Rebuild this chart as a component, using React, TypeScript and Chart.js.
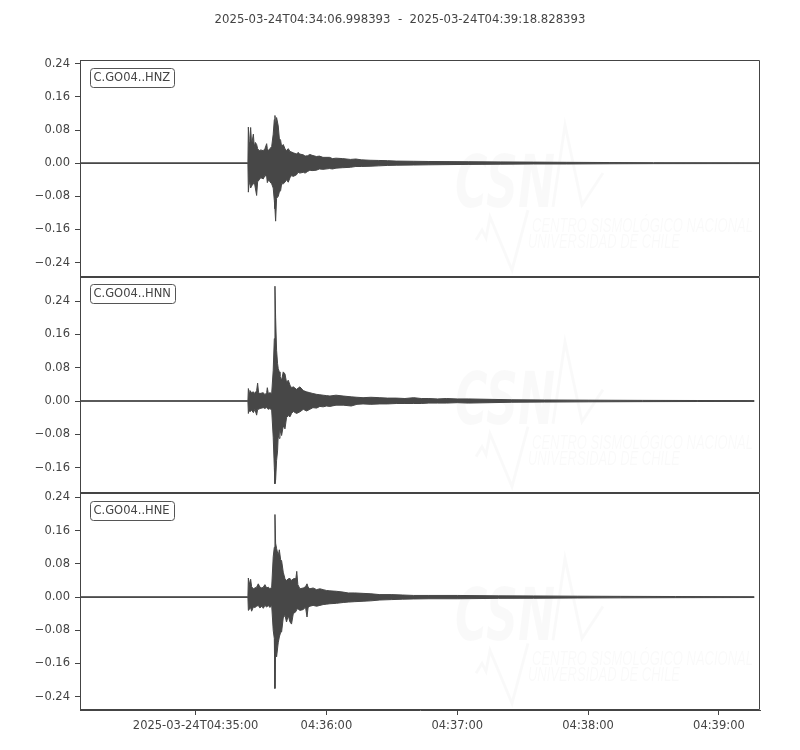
import React, { useEffect, useRef } from "react";
import { Chart, registerables } from "chart.js";

Chart.register(...registerables);

// ---------- data ----------
const TITLE_START = "2025-03-24T04:34:06.998393";
const TITLE_END = "2025-03-24T04:39:18.828393";
// time axis: seconds after 2025-03-24T04:34:00
const X_MIN = 6.998393;
const X_MAX = 318.828393;
const X_TICKS = [60, 120, 180, 240, 300];
const X_TICK_LABELS = ["2025-03-24T04:35:00", "04:36:00", "04:37:00", "04:38:00", "04:39:00"];

const CHANNELS = ["C.GO04..HNZ", "C.GO04..HNN", "C.GO04..HNE"];

const Z_RANGE = [-0.274, 0.249];
const N_RANGE = [-0.222, 0.299];
const E_RANGE = [-0.272, 0.25];

const Z_TICKS = [-0.24, -0.16, -0.08, 0, 0.08, 0.16, 0.24];
const N_TICKS = [-0.16, -0.08, 0, 0.08, 0.16, 0.24];
const E_TICKS = [-0.24, -0.16, -0.08, 0, 0.08, 0.16, 0.24];

// envelopes: [time (s after 04:34:00), max, min]
const HNZ_ENVELOPE: [number, number, number][] = [
  [7.0, 0.0008, -0.0008], [84.0, 0.0008, -0.0008],
  [84.2, 0.087, -0.07], [84.5, 0.05, -0.05], [84.9, 0.06, -0.045], [85.25, 0.086, -0.06],
  [85.7, 0.045, -0.055], [86.5, 0.07, -0.05], [86.9, 0.04, -0.045], [87.4, 0.05, -0.06],
  [88.0, 0.045, -0.078], [88.45, 0.035, -0.045], [89.2, 0.03, -0.04], [89.9, 0.032, -0.035],
  [91.05, 0.03, -0.038], [91.8, 0.035, -0.03], [92.6, 0.047, -0.032], [92.9, 0.035, -0.047],
  [93.5, 0.03, -0.04], [94.1, 0.035, -0.045], [94.9, 0.04, -0.05], [95.6, 0.07, -0.06],
  [96.1, 0.105, -0.09], [96.4, 0.115, -0.11], [96.7, 0.09, -0.14], [97.15, 0.11, -0.085],
  [97.9, 0.09, -0.08], [98.4, 0.06, -0.07], [99.0, 0.055, -0.066], [99.45, 0.04, -0.05],
  [100.2, 0.045, -0.05], [101.0, 0.035, -0.046], [101.7, 0.03, -0.04], [102.5, 0.035, -0.046],
  [103.3, 0.028, -0.035], [104.0, 0.027, -0.03], [104.8, 0.025, -0.032], [106.3, 0.022, -0.028],
  [107.0, 0.026, -0.022], [107.8, 0.022, -0.024], [109.4, 0.02, -0.022], [110.2, 0.017, -0.024],
  [111.4, 0.018, -0.02], [112.4, 0.021, -0.017], [113.4, 0.019, -0.018], [115.4, 0.016, -0.017],
  [116.8, 0.017, -0.014], [118.4, 0.014, -0.015], [121.4, 0.014, -0.013], [122.8, 0.011, -0.014],
  [124.4, 0.012, -0.012], [127.4, 0.011, -0.011], [131.0, 0.009, -0.01], [133.5, 0.01, -0.008],
  [136.0, 0.008, -0.008], [140.0, 0.007, -0.0075], [144.0, 0.0065, -0.0065], [148.0, 0.006, -0.0055],
  [152.0, 0.005, -0.005], [160.0, 0.0045, -0.0045], [167.0, 0.004, -0.004], [185.0, 0.0035, -0.003],
  [200.0, 0.003, -0.0025], [215.0, 0.0025, -0.002], [230.0, 0.002, -0.002], [250.0, 0.0015, -0.0015],
  [270.0, 0.0012, -0.0012], [318.83, 0.001, -0.001],
];

const HNN_ENVELOPE: [number, number, number][] = [
  [7.0, 0.0008, -0.0008], [84.0, 0.0008, -0.0008],
  [84.2, 0.03, -0.03], [84.6, 0.02, -0.02], [84.95, 0.025, -0.025], [85.7, 0.02, -0.022],
  [86.5, 0.022, -0.028], [87.2, 0.018, -0.02], [88.0, 0.025, -0.034], [88.45, 0.043, -0.02],
  [88.9, 0.02, -0.02], [89.5, 0.018, -0.018], [91.05, 0.02, -0.016], [91.8, 0.015, -0.018],
  [92.6, 0.02, -0.015], [92.9, 0.032, -0.018], [93.35, 0.018, -0.02], [94.1, 0.02, -0.018],
  [94.9, 0.018, -0.022], [95.6, 0.074, -0.087], [96.1, 0.15, -0.16], [96.4, 0.276, -0.199],
  [96.7, 0.2, -0.19], [97.15, 0.122, -0.143], [97.6, 0.09, -0.12], [97.9, 0.078, -0.083],
  [98.4, 0.07, -0.09], [98.7, 0.06, -0.07], [99.45, 0.05, -0.083], [100.2, 0.07, -0.06],
  [101.0, 0.065, -0.067], [101.7, 0.045, -0.04], [102.5, 0.05, -0.035], [103.3, 0.038, -0.038],
  [104.0, 0.032, -0.03], [104.8, 0.034, -0.025], [106.3, 0.028, -0.03], [107.85, 0.034, -0.026],
  [109.4, 0.025, -0.02], [110.9, 0.022, -0.024], [112.4, 0.02, -0.02], [113.8, 0.018, -0.016],
  [115.5, 0.016, -0.017], [117.0, 0.015, -0.013], [118.5, 0.014, -0.014], [120.0, 0.013, -0.012],
  [121.6, 0.012, -0.013], [124.4, 0.014, -0.01], [127.7, 0.012, -0.01], [131.4, 0.01, -0.012],
  [134.0, 0.009, -0.008], [136.8, 0.008, -0.007], [140.4, 0.009, -0.008], [144.5, 0.008, -0.007],
  [148.0, 0.007, -0.007], [152.0, 0.007, -0.006], [156.0, 0.006, -0.006], [160.0, 0.008, -0.006],
  [163.5, 0.006, -0.006], [167.0, 0.006, -0.005], [171.0, 0.005, -0.005], [175.0, 0.006, -0.005],
  [180.0, 0.005, -0.004], [185.0, 0.005, -0.005], [195.0, 0.004, -0.004], [205.0, 0.003, -0.003],
  [220.0, 0.0025, -0.0025], [240.0, 0.002, -0.002], [265.0, 0.0015, -0.0015], [290.0, 0.0012, -0.0012],
  [316.2, 0.001, -0.001],
];

const HNE_ENVELOPE: [number, number, number][] = [
  [7.0, 0.0008, -0.0008], [84.0, 0.0008, -0.0008],
  [84.2, 0.046, -0.032], [84.6, 0.03, -0.03], [85.25, 0.043, -0.025], [85.7, 0.025, -0.034],
  [86.5, 0.02, -0.024], [87.2, 0.022, -0.025], [88.0, 0.024, -0.022], [88.75, 0.032, -0.02],
  [89.5, 0.024, -0.026], [90.4, 0.022, -0.022], [91.05, 0.024, -0.027], [91.8, 0.03, -0.02],
  [92.6, 0.022, -0.024], [93.35, 0.024, -0.02], [94.1, 0.02, -0.025], [94.9, 0.024, -0.02],
  [95.6, 0.097, -0.08], [96.1, 0.12, -0.1], [96.4, 0.199, -0.22], [96.7, 0.13, -0.12],
  [97.15, 0.117, -0.144], [97.9, 0.1, -0.11], [98.4, 0.114, -0.096], [99.0, 0.09, -0.085],
  [99.45, 0.088, -0.084], [100.2, 0.06, -0.05], [101.0, 0.044, -0.044], [101.7, 0.04, -0.06],
  [102.5, 0.044, -0.045], [103.3, 0.045, -0.06], [104.0, 0.04, -0.065], [104.8, 0.044, -0.04],
  [106.0, 0.045, -0.035], [106.4, 0.062, -0.03], [106.9, 0.03, -0.028], [107.85, 0.02, -0.032],
  [109.4, 0.022, -0.03], [110.4, 0.025, -0.024], [111.1, 0.032, -0.048], [111.6, 0.024, -0.025],
  [112.4, 0.02, -0.022], [113.9, 0.022, -0.02], [115.5, 0.018, -0.022], [117.0, 0.02, -0.02],
  [118.5, 0.018, -0.018], [120.0, 0.016, -0.017], [121.6, 0.015, -0.016], [124.6, 0.014, -0.015],
  [127.7, 0.012, -0.013], [130.0, 0.01, -0.012], [133.0, 0.01, -0.011], [136.8, 0.009, -0.01],
  [140.4, 0.008, -0.009], [144.5, 0.006, -0.007], [150.0, 0.006, -0.006], [155.0, 0.005, -0.005],
  [160.0, 0.004, -0.0045], [167.0, 0.004, -0.004], [180.0, 0.004, -0.004], [199.0, 0.003, -0.003],
  [215.0, 0.0028, -0.0028], [235.0, 0.0022, -0.0022], [255.0, 0.0018, -0.0018], [280.0, 0.0014, -0.0014],
  [316.2, 0.001, -0.001],
];

// ---------- styling ----------
const INK = "#444444";
const WAVE = "#474747";
const FONT = '"DejaVu Sans", sans-serif';
const PANEL_AXES = ["yZ", "yN", "yE"];

function fmtTick(v: number): string {
  if (Math.abs(v) < 1e-9) return "0.00";
  return (v < 0 ? "\u2212" : "") + Math.abs(v).toFixed(2);
}

function fitText(ctx: CanvasRenderingContext2D, text: string, x: number, y: number, width: number) {
  const w = ctx.measureText(text).width;
  ctx.save();
  ctx.translate(x, y);
  ctx.scale(width / w, 1);
  ctx.fillText(text, 0, 0);
  ctx.restore();
}

function drawWatermark(ctx: CanvasRenderingContext2D, top: number) {
  ctx.save();
  const c = "rgba(0,0,0,0.022)";
  ctx.fillStyle = c;
  ctx.strokeStyle = c;
  ctx.textBaseline = "alphabetic";
  ctx.textAlign = "left";
  ctx.font = `italic bold 73px ${FONT}`;
  fitText(ctx, "CSN", 455, top + 147, 100);
  ctx.lineWidth = 3;
  ctx.lineJoin = "miter";
  ctx.beginPath();
  ctx.moveTo(553, top + 147);
  ctx.lineTo(565, top + 65);
  ctx.lineTo(582, top + 145);
  ctx.lineTo(603, top + 113);
  ctx.stroke();
  ctx.beginPath();
  ctx.moveTo(476, top + 180);
  ctx.lineTo(482, top + 170);
  ctx.lineTo(486, top + 178);
  ctx.lineTo(490, top + 157);
  ctx.lineTo(512, top + 210);
  ctx.lineTo(528, top + 150);
  ctx.stroke();
  ctx.font = `italic 21px "Liberation Sans", ${FONT}`;
  fitText(ctx, "CENTRO SISMOLÓGICO NACIONAL", 532, top + 172, 221);
  fitText(ctx, "UNIVERSIDAD DE CHILE", 528, top + 188, 152);
  ctx.restore();
}

function roundRectPath(ctx: CanvasRenderingContext2D, x: number, y: number, w: number, h: number, r: number) {
  ctx.beginPath();
  ctx.moveTo(x + r, y);
  ctx.lineTo(x + w - r, y);
  ctx.arcTo(x + w, y, x + w, y + r, r);
  ctx.lineTo(x + w, y + h - r);
  ctx.arcTo(x + w, y + h, x + w - r, y + h, r);
  ctx.lineTo(x + r, y + h);
  ctx.arcTo(x, y + h, x, y + h - r, r);
  ctx.lineTo(x, y + r);
  ctx.arcTo(x, y, x + r, y, r);
  ctx.closePath();
}

const decorPlugin = {
  id: "seisDecor",
  beforeDatasetsDraw(chart: any) {
    const ctx = chart.ctx as CanvasRenderingContext2D;
    const area = chart.chartArea;
    ctx.save();
    ctx.beginPath();
    ctx.rect(area.left, area.top, area.right - area.left, area.bottom - area.top);
    ctx.clip();
    PANEL_AXES.forEach((id) => drawWatermark(ctx, chart.scales[id].top));
    ctx.restore();
  },
  afterDatasetsDraw(chart: any) {
    const ctx = chart.ctx as CanvasRenderingContext2D;
    const area = chart.chartArea;
    ctx.save();
    ctx.strokeStyle = INK;
    ctx.lineWidth = 1;
    PANEL_AXES.forEach((id) => {
      const s = chart.scales[id];
      const l = Math.round(area.left) + 0.5;
      const r = Math.round(area.right) - 0.5;
      const t = Math.round(s.top) + 0.5;
      const b = Math.round(s.bottom) - 0.5;
      ctx.beginPath();
      ctx.moveTo(l, t);
      ctx.lineTo(r, t);
      ctx.lineTo(r, b);
      ctx.lineTo(l, b);
      ctx.stroke();
    });
    ctx.font = `11.5px ${FONT}`;
    ctx.textBaseline = "middle";
    ctx.textAlign = "left";
    PANEL_AXES.forEach((id, i) => {
      const s = chart.scales[id];
      const text = CHANNELS[i];
      const tw = ctx.measureText(text).width;
      const tx = area.left + 13.5;
      const bx = Math.round(tx - 3.8) + 0.5;
      const by = Math.round(s.top + 7.5) + 0.5;
      const bw = Math.round(tw + 7.6);
      const bh = 19;
      ctx.fillStyle = "#ffffff";
      roundRectPath(ctx, bx, by, bw, bh, 3);
      ctx.fill();
      ctx.strokeStyle = "#555555";
      ctx.stroke();
      ctx.fillStyle = INK;
      ctx.fillText(text, tx, by + bh / 2 + 0.5);
    });
    ctx.restore();
  },
  afterDraw(chart: any) {
    const ctx = chart.ctx as CanvasRenderingContext2D;
    ctx.save();
    ctx.font = `11.7px ${FONT}`;
    ctx.fillStyle = INK;
    ctx.textAlign = "center";
    ctx.textBaseline = "middle";
    ctx.fillText(`${TITLE_START}  -  ${TITLE_END}`, 400, 20);
    ctx.restore();
  },
};

function envelopeDatasets(env: [number, number, number][], axis: string) {
  return [
    {
      data: env.map(([t, hi]) => ({ x: t, y: hi })),
      yAxisID: axis,
      xAxisID: "x",
      borderColor: WAVE,
      backgroundColor: WAVE,
      borderWidth: 1,
      pointRadius: 0,
      tension: 0,
      fill: "+1",
    },
    {
      data: env.map(([t, , lo]) => ({ x: t, y: lo })),
      yAxisID: axis,
      xAxisID: "x",
      borderColor: WAVE,
      backgroundColor: WAVE,
      borderWidth: 1,
      pointRadius: 0,
      tension: 0,
      fill: false,
    },
  ];
}

function yScale(range: number[], ticks: number[], weight: number) {
  return {
    type: "linear",
    position: "left",
    stack: "panels",
    stackWeight: 1,
    weight,
    min: range[0],
    max: range[1],
    afterBuildTicks: (scale: any) => {
      scale.ticks = ticks.map((v) => ({ value: v }));
    },
    afterFit: (scale: any) => {
      scale.width = 80;
    },
    grid: { drawOnChartArea: false, drawTicks: true, tickLength: 5, color: INK, tickWidth: 1 },
    border: { display: true, color: INK, width: 1 },
    ticks: {
      color: INK,
      font: { family: FONT, size: 11.5 },
      padding: 5,
      callback: (v: any) => fmtTick(Number(v)),
    },
  };
}

export default function App() {
  const canvasRef = useRef<HTMLCanvasElement | null>(null);

  useEffect(() => {
    if (!canvasRef.current) return;
    const chart = new Chart(canvasRef.current, {
      type: "line",
      data: {
        datasets: [
          ...envelopeDatasets(HNZ_ENVELOPE, "yZ"),
          ...envelopeDatasets(HNN_ENVELOPE, "yN"),
          ...envelopeDatasets(HNE_ENVELOPE, "yE"),
        ] as any,
      },
      options: {
        animation: false,
        responsive: false,
        devicePixelRatio: 1,
        events: [],
        layout: { padding: { top: 60, right: 40, left: 0, bottom: 0 } },
        plugins: {
          legend: { display: false },
          tooltip: { enabled: false },
          title: { display: false },
        },
        scales: {
          x: {
            type: "linear",
            position: "bottom",
            min: X_MIN,
            max: X_MAX,
            afterBuildTicks: (scale: any) => {
              scale.ticks = X_TICKS.map((v) => ({ value: v }));
            },
            afterFit: (scale: any) => {
              scale.height = 40;
            },
            grid: { drawOnChartArea: false, drawTicks: true, tickLength: 5, color: INK, tickWidth: 1 },
            border: { display: true, color: INK, width: 1 },
            ticks: {
              color: INK,
              autoSkip: false,
              maxRotation: 0,
              font: { family: FONT, size: 11.5 },
              padding: 4,
              callback: (v: any) => {
                const i = X_TICKS.indexOf(Number(v));
                return i >= 0 ? X_TICK_LABELS[i] : "";
              },
            },
          },
          yE: yScale(E_RANGE, E_TICKS, 1),
          yN: yScale(N_RANGE, N_TICKS, 2),
          yZ: yScale(Z_RANGE, Z_TICKS, 3),
        } as any,
      },
      plugins: [decorPlugin],
    });
    return () => chart.destroy();
  }, []);

  return (
    <div style={{ position: "absolute", left: 0, top: 0, width: 800, height: 750, background: "#ffffff" }}>
      <canvas ref={canvasRef} width={800} height={750} style={{ display: "block", width: 800, height: 750 }} />
    </div>
  );
}
